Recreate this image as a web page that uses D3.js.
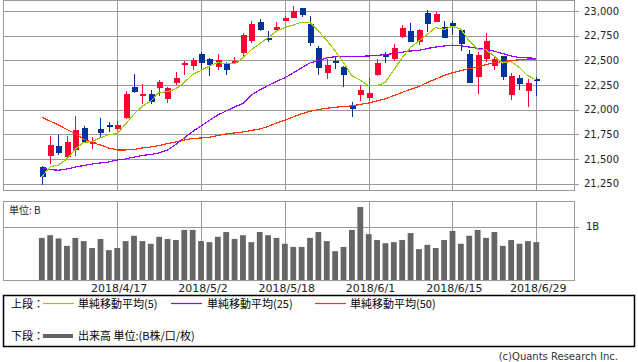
<!DOCTYPE html>
<html>
<head>
<meta charset="utf-8">
<script src="https://cdn.jsdelivr.net/npm/d3@7"></script>
<style>
  body { margin: 0; background: #fff; }
  text { font-family: "DejaVu Sans", sans-serif; }
  .jp { font-family: "Noto Sans CJK JP", sans-serif; }
</style>
</head>
<body>
<script>
// data (Nikkei 225, 2018/4/4 - 2018/6/29)
var dates = ["4/4","4/5","4/6","4/9","4/10","4/11","4/12","4/13","4/16","4/17",
  "4/18","4/19","4/20","4/23","4/24","4/25","4/26","4/27","5/1","5/2",
  "5/7","5/8","5/9","5/10","5/11","5/14","5/15","5/16","5/17","5/18",
  "5/21","5/22","5/23","5/24","5/25","5/28","5/29","5/30","5/31","6/1",
  "6/4","6/5","6/6","6/7","6/8","6/11","6/12","6/13","6/14","6/15",
  "6/18","6/19","6/20","6/21","6/22","6/25","6/26","6/27","6/28","6/29"];

var opens = [21419,21534,21632,21521,21591,21814,21649,21801,21848,21803,
  21913,22230,22142,22156,22223,22108,22274,22456,22446,22564,
  22514,22436,22463,22470,22571,22699,22889,22726,22807,22902,
  22932,23030,22868,22625,22372,22493,22436,22044,22152,22121,
  22351,22564,22514,22740,22797,22683,22977,22892,22835,22875,
  22807,22564,22331,22517,22446,22544,22152,22318,22192,22311];
var highs = [21430,21733,21744,21733,21936,21835,21726,21916,21875,21885,
  22189,22362,22260,22200,22301,22227,22382,22493,22524,22580,
  22520,22564,22483,22531,22774,22896,22916,22797,22889,22952,
  23054,23035,22952,22649,22517,22544,22446,22078,22250,22321,
  22514,22588,22666,22861,22881,22815,23007,22987,22896,22896,
  22821,22608,22588,22777,22544,22548,22372,22355,22311,22331];
var lows = [21234,21450,21544,21510,21531,21670,21600,21710,21774,21795,
  21903,22169,22058,22061,22142,22071,22247,22351,22402,22412,
  22345,22402,22355,22463,22537,22673,22797,22689,22800,22896,
  22932,22942,22642,22351,22314,22409,22233,21929,22091,22098,
  22341,22470,22490,22729,22685,22659,22787,22885,22725,22757,
  22598,22270,22159,22486,22399,22301,22098,22200,22027,22139];
var closes = [21315,21642,21564,21673,21794,21676,21676,21767,21828,21845,
  22162,22179,22159,22081,22281,22217,22321,22470,22500,22470,
  22453,22504,22405,22497,22760,22868,22811,22709,22838,22932,
  23000,22956,22679,22426,22453,22476,22355,22010,22203,22169,
  22473,22537,22622,22828,22689,22807,22871,22970,22729,22845,
  22669,22273,22554,22693,22514,22334,22338,22263,22270,22294];

var ma5 = [21320,21420,21440,21500,21598,21670,21675,21716,21747,21757,
  21854,21956,22035,22085,22172,22183,22212,22274,22358,22396,
  22443,22479,22466,22466,22524,22607,22668,22729,22797,22832,
  22858,22887,22881,22799,22703,22598,22478,22344,22299,22243,
  22242,22278,22401,22526,22630,22697,22763,22833,22813,22844,
  22817,22697,22614,22607,22541,22474,22487,22428,22344,22300];
var ma25 = [21406,21394,21386,21399,21419,21434,21449,21460,21470,21490,
  21500,21520,21536,21546,21561,21591,21647,21713,21779,21835,
  21890,21946,21987,22027,22063,22149,22199,22245,22286,22323,
  22372,22424,22473,22498,22524,22537,22539,22539,22541,22544,
  22549,22559,22569,22582,22595,22600,22620,22635,22645,22655,
  22648,22635,22622,22610,22592,22569,22544,22529,22524,22521];
var ma50 = [21923,21885,21845,21799,21759,21703,21668,21642,21612,21592,
  21592,21597,21612,21622,21637,21657,21673,21693,21708,21713,
  21721,21738,21754,21764,21774,21789,21804,21830,21865,21892,
  21926,21959,21982,22002,22014,22024,22032,22039,22053,22068,
  22090,22111,22142,22176,22205,22235,22275,22311,22346,22375,
  22395,22415,22433,22458,22476,22488,22498,22506,22511,22514];

// volume, in B
var volumes = [0.79,0.84,0.78,0.64,0.79,0.73,0.60,0.77,0.56,0.60,
  0.73,0.83,0.73,0.68,0.81,0.77,0.75,0.94,0.94,0.73,
  0.71,0.81,0.90,0.77,0.84,0.71,0.90,0.84,0.79,0.68,
  0.62,0.62,0.79,0.90,0.73,0.54,0.62,0.94,1.37,0.86,
  0.75,0.69,0.71,0.75,0.88,0.58,0.66,0.60,0.75,0.92,
  0.68,0.83,0.94,0.79,0.90,0.64,0.75,0.68,0.73,0.71];

var priceTicks = [21250,21500,21750,22000,22250,22500,22750,23000];
var dateTickIdx = [9,19,29,39,49,59];
var dateTickLabels = ["2018/4/17","2018/5/2","2018/5/18","2018/6/1","2018/6/15","2018/6/29"];

var legendTop = ["単純移動平均(5)","単純移動平均(25)","単純移動平均(50)"];
var maColors = ["#99cc00","#9900ff","#ff3300"];

var svgWidth = 638, svgHeight = 362;
var frameL = 3, frameR = 574;
var upColor = "#ff0033", downColor = "#003399", gridColor = "#999";

var svg = d3.select("body").append("svg")
  .attr("width", svgWidth)
  .attr("height", svgHeight);

svg.append("rect").attr("width", svgWidth).attr("height", svgHeight).attr("fill", "#fff");

// scales
var x = d3.scaleLinear().domain([0, 59]).range([41.7, 536.2]);
var y = d3.scaleLinear().domain([21250, 23000]).range([183.7, 11]);
var yv = d3.scaleLinear().domain([0, 1]).range([280, 226.7]);

// ---- upper pane ----
var grid = svg.append("g").attr("stroke", gridColor).attr("stroke-width", 1).attr("shape-rendering", "crispEdges");

priceTicks.forEach(function(t) {
  grid.append("line").attr("x1", frameL).attr("x2", frameR + 5)
    .attr("y1", Math.round(y(t)) + 0.5).attr("y2", Math.round(y(t)) + 0.5);
});
dateTickIdx.forEach(function(i) {
  var xx = Math.round(x(i)) + 0.5;
  grid.append("line").attr("x1", xx).attr("x2", xx).attr("y1", 0).attr("y2", 190);
  grid.append("line").attr("x1", xx).attr("x2", xx).attr("y1", 201).attr("y2", 280);
});
grid.append("line").attr("x1", frameL).attr("x2", frameR + 5)
  .attr("y1", Math.round(yv(1)) + 0.5).attr("y2", Math.round(yv(1)) + 0.5);

grid.append("rect").attr("x", frameL + 0.5).attr("y", 0.5).attr("width", frameR - frameL).attr("height", 190)
  .attr("fill", "none");
grid.append("rect").attr("x", frameL + 0.5).attr("y", 201.5).attr("width", frameR - frameL).attr("height", 79)
  .attr("fill", "none");

// y axis labels
svg.append("g").selectAll("text")
  .data(priceTicks)
  .enter()
  .append("text")
  .attr("x", 584)
  .attr("y", function(d) { return y(d); })
  .attr("dy", "0.35em")
  .attr("font-size", "10px")
  .attr("fill", "#222")
  .text(function(d) { return d3.format(",")(d); });

// candles
var candles = svg.append("g").attr("shape-rendering", "crispEdges");
d3.range(dates.length).forEach(function(i) {
  var up = closes[i] >= opens[i];
  var col = up ? upColor : downColor;
  var cx = Math.round(x(i));
  candles.append("line")
    .attr("x1", cx + 0.5).attr("x2", cx + 0.5)
    .attr("y1", y(highs[i])).attr("y2", y(lows[i]))
    .attr("stroke", col);
  var top = y(Math.max(opens[i], closes[i]));
  var bot = y(Math.min(opens[i], closes[i]));
  candles.append("rect")
    .attr("x", cx - 2.5).attr("y", top)
    .attr("width", 6).attr("height", Math.max(1.5, bot - top))
    .attr("fill", col);
});

// moving averages
var line = d3.line().x(function(d, i) { return x(i); }).y(function(d) { return y(d); });
[ma50, ma25, ma5].forEach(function(ma, k) {
  svg.append("path")
    .datum(ma)
    .attr("d", line)
    .attr("fill", "none")
    .attr("stroke", maColors[2 - k])
    .attr("stroke-width", 1.2)
    .attr("shape-rendering", "crispEdges");
});

// ---- volume pane ----
svg.append("g").selectAll("rect")
  .data(volumes)
  .enter()
  .append("rect")
  .attr("x", function(d, i) { return x(i) - 2.8; })
  .attr("y", function(d) { return yv(d); })
  .attr("width", 5.8)
  .attr("height", function(d) { return 280 - yv(d); })
  .attr("fill", "#666");

svg.append("text").attr("class", "jp").attr("x", 9).attr("y", 210).attr("dy", "0.35em")
  .attr("font-size", "10px").attr("fill", "#222").text("単位: B");
svg.append("text").attr("x", 586).attr("y", yv(1)).attr("dy", "0.35em")
  .attr("font-size", "10px").attr("fill", "#222").text("1B");

// date labels
svg.append("g").selectAll("text")
  .data(dateTickIdx)
  .enter()
  .append("text")
  .attr("x", function(d) { return x(d) + 2; })
  .attr("y", 288)
  .attr("dy", "0.35em")
  .attr("text-anchor", "middle")
  .attr("font-size", "11px")
  .attr("fill", "#222")
  .text(function(d, i) { return dateTickLabels[i]; });

// ---- legend ----
var lg = svg.append("g");
lg.append("rect").attr("x", 3.5).attr("y", 295.5).attr("width", 631).attr("height", 51)
  .attr("fill", "none").attr("stroke", "#000").attr("stroke-width", 1.5);

lg.append("text").attr("class", "jp").attr("x", 11).attr("y", 304).attr("dy", "0.35em")
  .attr("font-size", "11px").text("上段：");
var lineX = [43, 171, 315];
var textX = [78, 207, 350];
legendTop.forEach(function(t, k) {
  lg.append("line").attr("x1", lineX[k]).attr("x2", lineX[k] + 31)
    .attr("y1", 303.5).attr("y2", 303.5)
    .attr("stroke", maColors[k]).attr("stroke-width", 1.2);
  lg.append("text").attr("class", "jp").attr("x", textX[k]).attr("y", 304).attr("dy", "0.35em")
    .attr("font-size", "11px").text(t);
});

lg.append("text").attr("class", "jp").attr("x", 11).attr("y", 336).attr("dy", "0.35em")
  .attr("font-size", "11px").text("下段：");
lg.append("line").attr("x1", 43).attr("x2", 73).attr("y1", 336).attr("y2", 336)
  .attr("stroke", "#666").attr("stroke-width", 4);
lg.append("text").attr("class", "jp").attr("x", 78).attr("y", 336).attr("dy", "0.35em")
  .attr("font-size", "11px").text("出来高 単位:(B株/口/枚)");

svg.append("text").attr("x", 618).attr("y", 356).attr("dy", "0.35em")
  .attr("text-anchor", "end").attr("font-size", "10px").attr("fill", "#333")
  .text("(c)Quants Research Inc.");
</script>
</body>
</html>
